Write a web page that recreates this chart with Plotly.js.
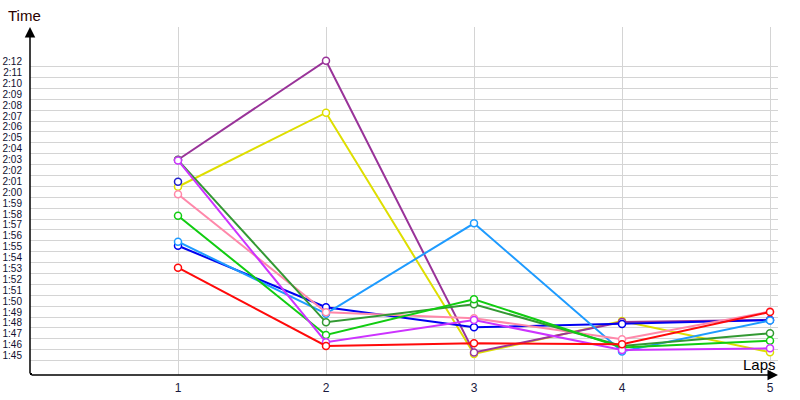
<!DOCTYPE html>
<html>
<head>
<meta charset="utf-8">
<script src="https://cdn.plot.ly/plotly-3.0.1.min.js"></script>
<style>html,body{margin:0;padding:0;background:#fff;}#chart{width:800px;height:400px;}</style>
</head>
<body>
<div id="chart"></div>
<script>
// Lap numbers and labels
const laps = [1, 2, 3, 4, 5];
const lapLabels = ["1", "2", "3", "4", "5"];

// Lap times in seconds, one array per driver
const purpleTimes    = [123.45, 132.54, 105.75, 108.55, 108.75];
const yellowTimes    = [120.97, 127.77, 105.61, 108.64, 105.77];
const darkGreenTimes = [123.42, 108.52, 110.17, 106.35, 107.51];
const violetTimes    = [123.38, 106.69, 108.73, 105.98, 106.13];
const pinkTimes      = [120.28, 109.44, 108.89, 106.96, 109.51];
const greenTimes     = [118.31, 107.36, 110.63, 106.21, 106.83];
const lightBlueTimes = [115.92, 109.31, 117.61, 105.84, 108.69];
const blueTimes      = [115.55, 109.90, 108.06, 108.37, 108.71];
const redTimes       = [113.54, 106.35, 106.59, 106.50, 109.47];
const extraBlueLaps  = [1];
const extraBlueTimes = [121.43];

// Y tick values (seconds) and their labels
const yTickVals = [105,106,107,108,109,110,111,112,113,114,115,116,117,118,119,120,121,122,123,124,125,126,127,128,129,130,131,132];
const yTickText = ["1:45","1:46","1:47","1:48","1:49","1:50","1:51","1:52","1:53","1:54","1:55","1:56","1:57","1:58","1:59","2:00","2:01","2:02","2:03","2:04","2:05","2:06","2:07","2:08","2:09","2:10","2:11","2:12"];

const Y0 = 103.68, Y1 = 135.64, X1 = 5.054;

function series(xs, ys, color) {
  return {
    x: xs, y: ys, type: 'scatter', mode: 'lines+markers',
    line: {color: color, width: 2},
    marker: {symbol: 'circle', size: 7, color: '#ffffff', line: {color: color, width: 1.5}},
    cliponaxis: false, hoverinfo: 'x+y'
  };
}

const data = [
  series(laps, yellowTimes, '#dede00'),
  series(laps, purpleTimes, '#993399'),
  series(laps, blueTimes, '#0000f0'),
  series(laps, lightBlueTimes, '#1e9bff'),
  series(laps, pinkTimes, '#ff88aa'),
  series(laps, darkGreenTimes, '#339933'),
  series(laps, greenTimes, '#11cc11'),
  series(laps, violetTimes, '#cc33ff'),
  series(laps, redTimes, '#ff0a0a'),
  series(extraBlueLaps, extraBlueTimes, '#2020cc')
];

const layout = {
  width: 800, height: 400,
  margin: {l: 30, r: 22, t: 27, b: 25, pad: 0},
  paper_bgcolor: '#ffffff', plot_bgcolor: '#ffffff',
  showlegend: false,
  font: {family: 'Liberation Sans, Arial, sans-serif'},
  xaxis: {
    range: [0, X1], tickmode: 'array', tickvals: laps, ticktext: lapLabels,
    showgrid: true, gridcolor: '#d4d4d4', gridwidth: 1,
    zeroline: false, showline: false, ticks: '',
    ticklabelstandoff: 4,
    tickfont: {family: 'Liberation Sans, Arial, sans-serif', size: 12, color: '#1a1a40'},
    fixedrange: true
  },
  yaxis: {
    range: [Y0, Y1], tickmode: 'array', tickvals: yTickVals, ticktext: yTickText,
    showgrid: true, gridcolor: '#d4d4d4', gridwidth: 1,
    zeroline: false, showline: false, ticks: '',
    ticklabelshift: -5, ticklabelstandoff: 7,
    tickfont: {family: 'Liberation Sans, Arial, sans-serif', size: 10, color: '#101030'},
    fixedrange: true
  },
  shapes: [
    {type: 'rect', xref: 'x', yref: 'y', xsizemode: 'pixel', ysizemode: 'pixel',
     xanchor: 0, yanchor: Y0, x0: -2, x1: 2, y0: -2, y1: 2,
     fillcolor: '#000000', line: {width: 0}}
  ],
  annotations: [
    {x: 0, y: Y1, xref: 'x', yref: 'y', ax: 0, ay: Y0, axref: 'x', ayref: 'y',
     text: '', showarrow: true, arrowhead: 2, arrowsize: 1.4, arrowwidth: 1.5, arrowcolor: '#000000', standoff: 0, startstandoff: 0},
    {x: X1, y: Y0, xref: 'x', yref: 'y', ax: 0, ay: Y0, axref: 'x', ayref: 'y',
     text: '', showarrow: true, arrowhead: 2, arrowsize: 1.4, arrowwidth: 1.5, arrowcolor: '#000000', standoff: 0, startstandoff: 0},
    {x: -0.0067, y: 1.0325, xref: 'paper', yref: 'paper', text: 'Time', showarrow: false,
     xanchor: 'center', yanchor: 'middle',
     font: {family: 'Liberation Sans, Arial, sans-serif', size: 15, color: '#2a0000'}},
    {x: 4.926, y: 104.69, xref: 'x', yref: 'y', text: 'Laps', showarrow: false,
     xanchor: 'center', yanchor: 'middle',
     font: {family: 'Liberation Sans, Arial, sans-serif', size: 15, color: '#000000'}}
  ]
};

Plotly.newPlot('chart', data, layout, {displayModeBar: false, staticPlot: true});
</script>
</body>
</html>
